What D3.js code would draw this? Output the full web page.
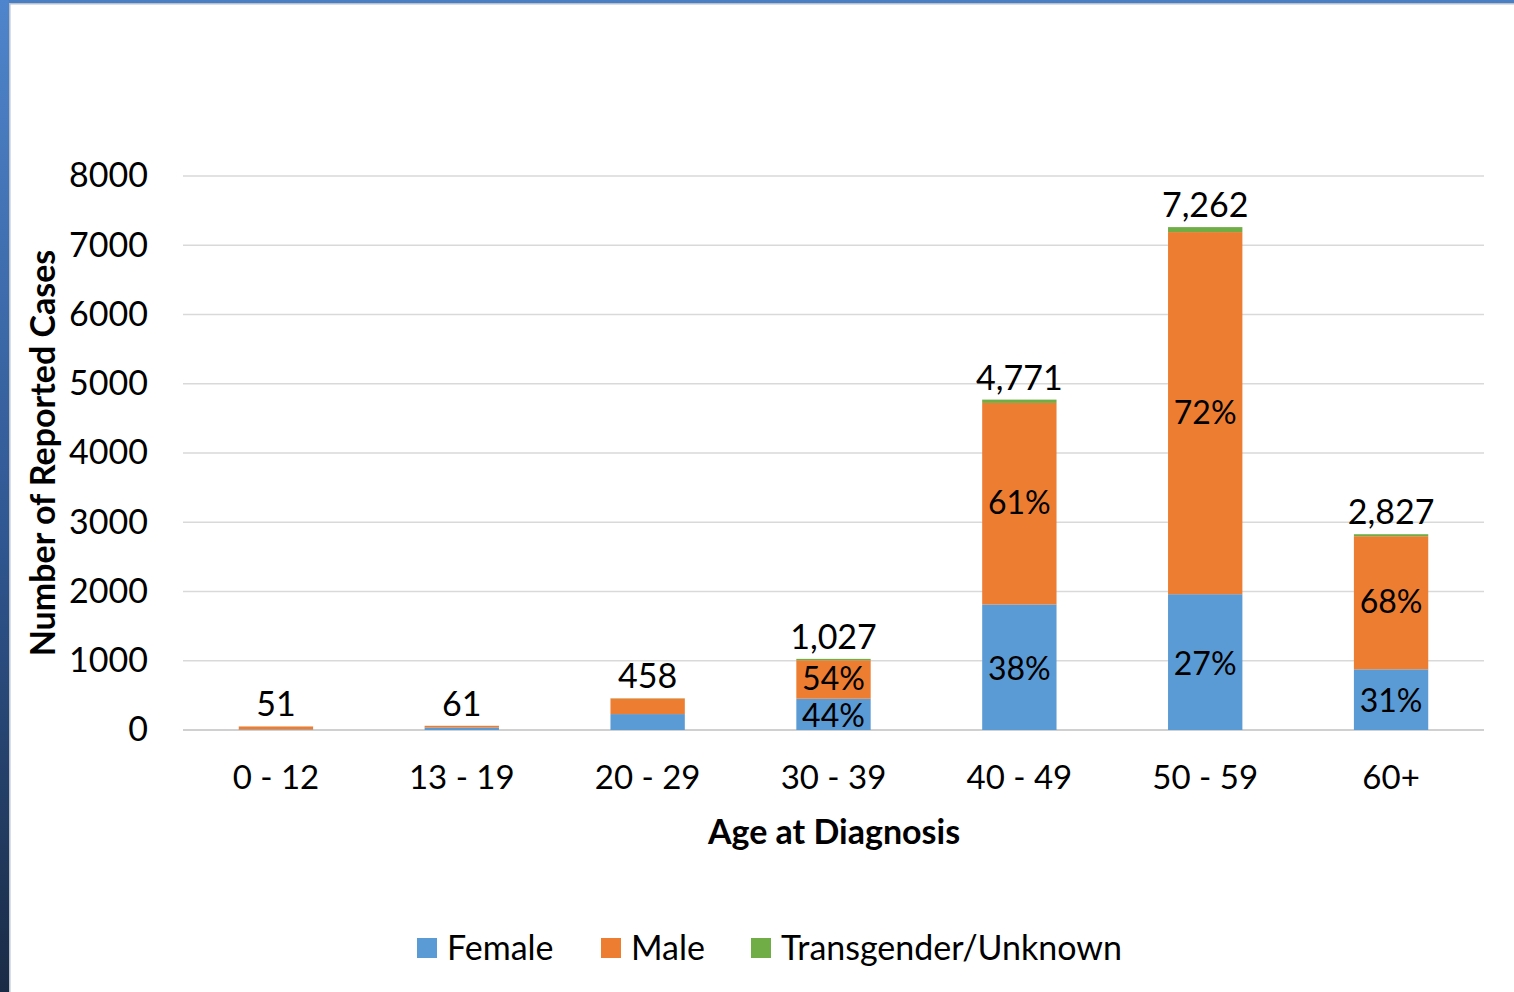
<!DOCTYPE html>
<html>
<head>
<meta charset="utf-8">
<script src="https://cdn.jsdelivr.net/npm/d3@7"></script>
<style>
  body { margin: 0; background: #fff; }
  svg { display: block; font-family: Lato, "Open Sans", sans-serif; }
</style>
</head>
<body>
<svg id="chart" width="1514" height="992"></svg>
<script>
// data
var ageGroups = ['0 - 12', '13 - 19', '20 - 29', '30 - 39', '40 - 49', '50 - 59', '60+'];
var female = [8, 36, 230, 452, 1813, 1961, 876];
var male = [43, 24, 225, 555, 2910, 5229, 1922];
var transUnknown = [0, 1, 3, 20, 48, 72, 29];
var totals = [51, 61, 458, 1027, 4771, 7262, 2827];
var femalePct = ['', '', '', '44%', '38%', '27%', '31%'];
var malePct = ['', '', '', '54%', '61%', '72%', '68%'];
var yTicks = [0, 1000, 2000, 3000, 4000, 5000, 6000, 7000, 8000];
var seriesNames = ['Female', 'Male', 'Transgender/Unknown'];
var colors = ['#5b9bd5', '#ed7d31', '#70ad47'];

var FS = 34;
var svg = d3.select('#chart');

// slide frame
var defs = svg.append('defs');
var grad = defs.append('linearGradient').attr('id', 'side')
  .attr('x1', 0).attr('y1', 0).attr('x2', 0).attr('y2', 1);
grad.append('stop').attr('offset', '0%').attr('stop-color', '#4f85cc');
grad.append('stop').attr('offset', '55%').attr('stop-color', '#2f5690');
grad.append('stop').attr('offset', '100%').attr('stop-color', '#1a2b45');
svg.append('rect').attr('x', 0).attr('y', 0).attr('width', 1514).attr('height', 3).attr('fill', '#4a7fc4');
svg.append('rect').attr('x', 0).attr('y', 0).attr('width', 9).attr('height', 992).attr('fill', 'url(#side)');
svg.append('rect').attr('x', 9).attr('y', 3).attr('width', 1505).attr('height', 1.5).attr('fill', '#b8c0cc');
svg.append('rect').attr('x', 9).attr('y', 3).attr('width', 1.5).attr('height', 989).attr('fill', '#b8c0cc');

var x = d3.scaleBand().domain(ageGroups).range([183, 1484]).paddingInner(0.6).paddingOuter(0.3);
var y = d3.scaleLinear().domain([0, 8000]).range([730, 176]);

// gridlines
svg.append('g').selectAll('line').data(yTicks).join('line')
  .attr('x1', 183).attr('x2', 1484)
  .attr('y1', function(d) { return y(d); }).attr('y2', function(d) { return y(d); })
  .attr('stroke', function(d) { return d === 0 ? '#d0d0d0' : '#d9d9d9'; })
  .attr('stroke-width', function(d) { return d === 0 ? 2 : 1.3; });

// y axis labels
var yAxis = d3.axisLeft(y).tickValues(yTicks).tickFormat(d3.format('d')).tickSize(0).tickPadding(0);
var gy = svg.append('g').attr('transform', 'translate(148,0)').call(yAxis);
gy.select('.domain').remove();
gy.selectAll('text').attr('font-size', FS).attr('fill', '#000').attr('font-family', 'Lato, sans-serif');

// x axis labels
var xAxis = d3.axisBottom(x).tickSize(0).tickPadding(0);
var gx = svg.append('g').attr('transform', 'translate(0,766)').call(xAxis);
gx.select('.domain').remove();
gx.selectAll('text').attr('font-size', 33).attr('fill', '#000').attr('font-family', 'Lato, sans-serif');

// stacked bars
var rows = ageGroups.map(function(g, i) {
  return { group: g, Female: female[i], Male: male[i], 'Transgender/Unknown': transUnknown[i] };
});
var stack = d3.stack().keys(seriesNames)(rows);
svg.append('g').selectAll('g').data(stack).join('g')
  .attr('fill', function(d, i) { return colors[i]; })
  .selectAll('rect').data(function(d) { return d; }).join('rect')
  .attr('x', function(d) { return x(d.data.group); })
  .attr('width', x.bandwidth())
  .attr('y', function(d) { return y(d[1]); })
  .attr('height', function(d) { return y(d[0]) - y(d[1]); });

// totals
svg.append('g').selectAll('text').data(totals).join('text')
  .attr('x', function(d, i) { return x(ageGroups[i]) + x.bandwidth() / 2; })
  .attr('y', function(d) { return y(d) - 10; })
  .attr('text-anchor', 'middle')
  .attr('font-size', FS)
  .text(function(d) { return d >= 1000 ? d3.format(',')(d) : d; });

// percentage labels (slightly smaller so the two in the short 30-39 bar don't collide)
svg.append('g').selectAll('text').data(femalePct).join('text')
  .attr('x', function(d, i) { return x(ageGroups[i]) + x.bandwidth() / 2; })
  .attr('y', function(d, i) { return (y(0) + y(female[i])) / 2 + 1; })
  .attr('dy', '0.36em')
  .attr('text-anchor', 'middle')
  .attr('font-size', 32)
  .text(function(d) { return d; });
svg.append('g').selectAll('text').data(malePct).join('text')
  .attr('x', function(d, i) { return x(ageGroups[i]) + x.bandwidth() / 2; })
  .attr('y', function(d, i) { return (y(female[i]) + y(female[i] + male[i])) / 2 - 1; })
  .attr('dy', '0.36em')
  .attr('text-anchor', 'middle')
  .attr('font-size', 32)
  .text(function(d) { return d; });

// axis titles
svg.append('text')
  .attr('x', 834).attr('y', 844)
  .attr('text-anchor', 'middle')
  .attr('font-size', FS).attr('font-weight', 'bold')
  .text('Age at Diagnosis');
svg.append('text')
  .attr('transform', 'translate(55,453) rotate(-90)')
  .attr('text-anchor', 'middle')
  .attr('font-size', FS).attr('font-weight', 'bold')
  .text('Number of Reported Cases');

// legend
var legendX = [417, 601, 751];
var legend = svg.append('g').selectAll('g').data(seriesNames).join('g')
  .attr('transform', function(d, i) { return 'translate(' + legendX[i] + ',938)'; });
legend.append('rect').attr('width', 20).attr('height', 20)
  .attr('fill', function(d, i) { return colors[i]; });
legend.append('text').attr('x', 30).attr('y', 10).attr('dy', '0.36em')
  .attr('font-size', FS)
  .text(function(d) { return d; });
</script>
</body>
</html>
